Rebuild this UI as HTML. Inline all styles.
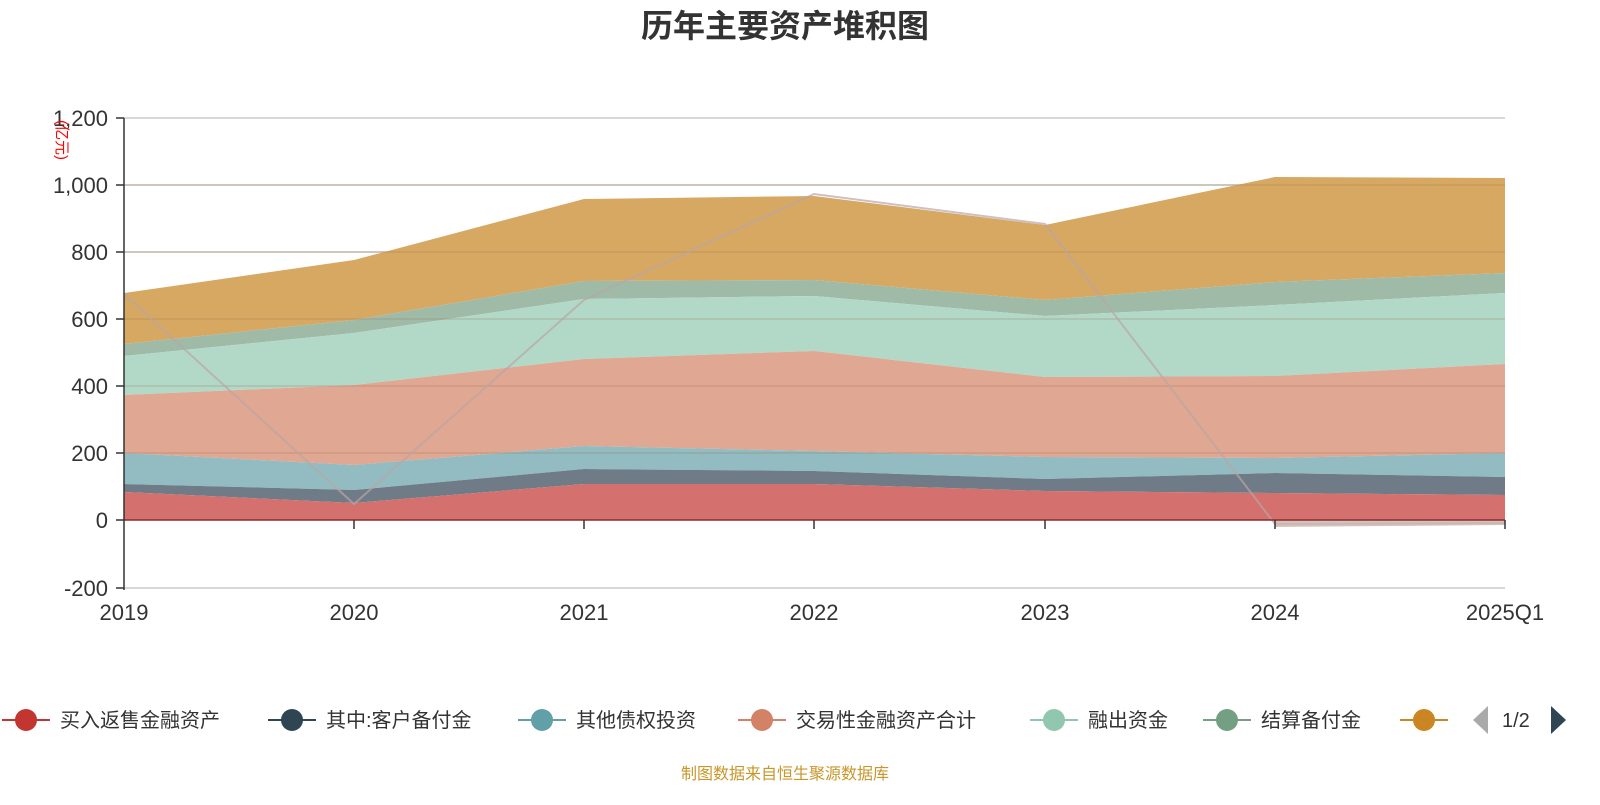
<!DOCTYPE html>
<html><head><meta charset="utf-8"><style>
body{margin:0;background:#fff;width:1600px;height:800px;overflow:hidden;font-family:"Liberation Sans","Noto Sans CJK SC",sans-serif}
</style></head><body>
<svg width="1600" height="800" xmlns="http://www.w3.org/2000/svg" font-family="Liberation Sans, Noto Sans CJK SC, sans-serif">
<text x="785" y="37" text-anchor="middle" font-size="32" font-weight="bold" fill="#333">历年主要资产堆积图</text>
<g stroke="#ccc" stroke-width="1.5">
<line x1="124" y1="118" x2="1505" y2="118"/><line x1="124" y1="185" x2="1505" y2="185"/>
<line x1="124" y1="252" x2="1505" y2="252"/><line x1="124" y1="588" x2="1505" y2="588"/>
</g>
<polygon fill="#d7a862" points="124,293 354,260 584,199 814,196 1045,225 1275,177 1505,178 1505,273 1275,282 1045,300 814,280 584,281 354,320 124,344"/>
<polygon fill="#9fbba8" points="124,344 354,320 584,281 814,280 1045,300 1275,282 1505,273 1505,293 1275,305 1045,316 814,296 584,299 354,333 124,356"/>
<polygon fill="#b2d9c7" points="124,356 354,333 584,299 814,296 1045,316 1275,305 1505,293 1505,364 1275,376 1045,377 814,351 584,359 354,385 124,395"/>
<polygon fill="#e0a792" points="124,395 354,385 584,359 814,351 1045,377 1275,376 1505,364 1505,453 1275,458 1045,457 814,451 584,446 354,465 124,453"/>
<polygon fill="#92bcc2" points="124,453 354,465 584,446 814,451 1045,457 1275,458 1505,453 1505,477 1275,473 1045,479 814,471 584,469 354,490 124,484"/>
<polygon fill="#6f7c87" points="124,484 354,490 584,469 814,471 1045,479 1275,473 1505,477 1505,495 1275,493 1045,491 814,484 584,484 354,503 124,492"/>
<polygon fill="#d4706d" points="124,492 354,503 584,484 814,484 1045,491 1275,493 1505,495 1505,520 124,520"/>
<g stroke="rgba(150,110,80,0.25)" stroke-width="1.5">
<line x1="124" y1="185" x2="1505" y2="185"/><line x1="124" y1="252" x2="1505" y2="252"/>
<line x1="124" y1="319" x2="1505" y2="319"/><line x1="124" y1="386" x2="1505" y2="386"/><line x1="124" y1="453" x2="1505" y2="453"/>
</g>
<polyline fill="none" stroke="rgba(185,165,165,0.7)" stroke-width="2" points="124,294 354,504 584,300 814,194 1045,224 1275,524 1505,523"/>
<polygon fill="rgba(200,180,175,0.8)" points="1275,520 1505,520 1505,525 1275,527"/>
<line x1="124" y1="520" x2="1505" y2="520" stroke="#8b2a2a" stroke-width="1.5"/>
<line x1="124" y1="118" x2="124" y2="590" stroke="#333" stroke-width="1.5"/>
<g stroke="#333" stroke-width="1.5">
<line x1="116" y1="118" x2="124" y2="118"/><line x1="116" y1="185" x2="124" y2="185"/><line x1="116" y1="252" x2="124" y2="252"/>
<line x1="116" y1="319" x2="124" y2="319"/><line x1="116" y1="386" x2="124" y2="386"/><line x1="116" y1="453" x2="124" y2="453"/>
<line x1="116" y1="520" x2="124" y2="520"/><line x1="116" y1="588" x2="124" y2="588"/>
<line x1="354" y1="520" x2="354" y2="529"/><line x1="584" y1="520" x2="584" y2="529"/><line x1="814" y1="520" x2="814" y2="529"/>
<line x1="1045" y1="520" x2="1045" y2="529"/><line x1="1275" y1="520" x2="1275" y2="529"/><line x1="1505" y1="520" x2="1505" y2="529"/>
</g>
<g font-size="22" fill="#333" text-anchor="end">
<text x="108" y="126">1,200</text><text x="108" y="193">1,000</text><text x="108" y="260">800</text>
<text x="108" y="327">600</text><text x="108" y="394">400</text><text x="108" y="461">200</text>
<text x="108" y="528">0</text><text x="108" y="596">-200</text>
</g>
<text transform="translate(57,120) rotate(90)" font-size="15" fill="#f00">(亿元)</text>
<g font-size="22" fill="#333" text-anchor="middle">
<text x="124" y="620">2019</text><text x="354" y="620">2020</text><text x="584" y="620">2021</text><text x="814" y="620">2022</text>
<text x="1045" y="620">2023</text><text x="1275" y="620">2024</text><text x="1505" y="620">2025Q1</text>
</g>
<g font-size="20" fill="#333">
<line x1="2" y1="720" x2="50" y2="720" stroke="#c23531" stroke-width="2"/><circle cx="26" cy="720" r="11" fill="#c23531"/><text x="60" y="727">买入返售金融资产</text>
<line x1="268" y1="720" x2="316" y2="720" stroke="#2f4554" stroke-width="2"/><circle cx="292" cy="720" r="11" fill="#2f4554"/><text x="326" y="727">其中:客户备付金</text>
<line x1="518" y1="720" x2="566" y2="720" stroke="#61a0a8" stroke-width="2"/><circle cx="542" cy="720" r="11" fill="#61a0a8"/><text x="576" y="727">其他债权投资</text>
<line x1="738" y1="720" x2="786" y2="720" stroke="#d48265" stroke-width="2"/><circle cx="762" cy="720" r="11" fill="#d48265"/><text x="796" y="727">交易性金融资产合计</text>
<line x1="1030" y1="720" x2="1078" y2="720" stroke="#91c7ae" stroke-width="2"/><circle cx="1054" cy="720" r="11" fill="#91c7ae"/><text x="1088" y="727">融出资金</text>
<line x1="1203" y1="720" x2="1251" y2="720" stroke="#749f83" stroke-width="2"/><circle cx="1227" cy="720" r="11" fill="#749f83"/><text x="1261" y="727">结算备付金</text>
<line x1="1400" y1="720" x2="1448" y2="720" stroke="#ca8622" stroke-width="2"/><circle cx="1424" cy="720" r="11" fill="#ca8622"/>
<polygon points="1488,706 1488,734 1473,720" fill="#aaa"/><text x="1502" y="727">1/2</text>
<polygon points="1551,706 1551,734 1566,720" fill="#2f4554"/>
</g>
<text x="785" y="779" text-anchor="middle" font-size="16" fill="#c8962a">制图数据来自恒生聚源数据库</text>
</svg>
</body></html>
